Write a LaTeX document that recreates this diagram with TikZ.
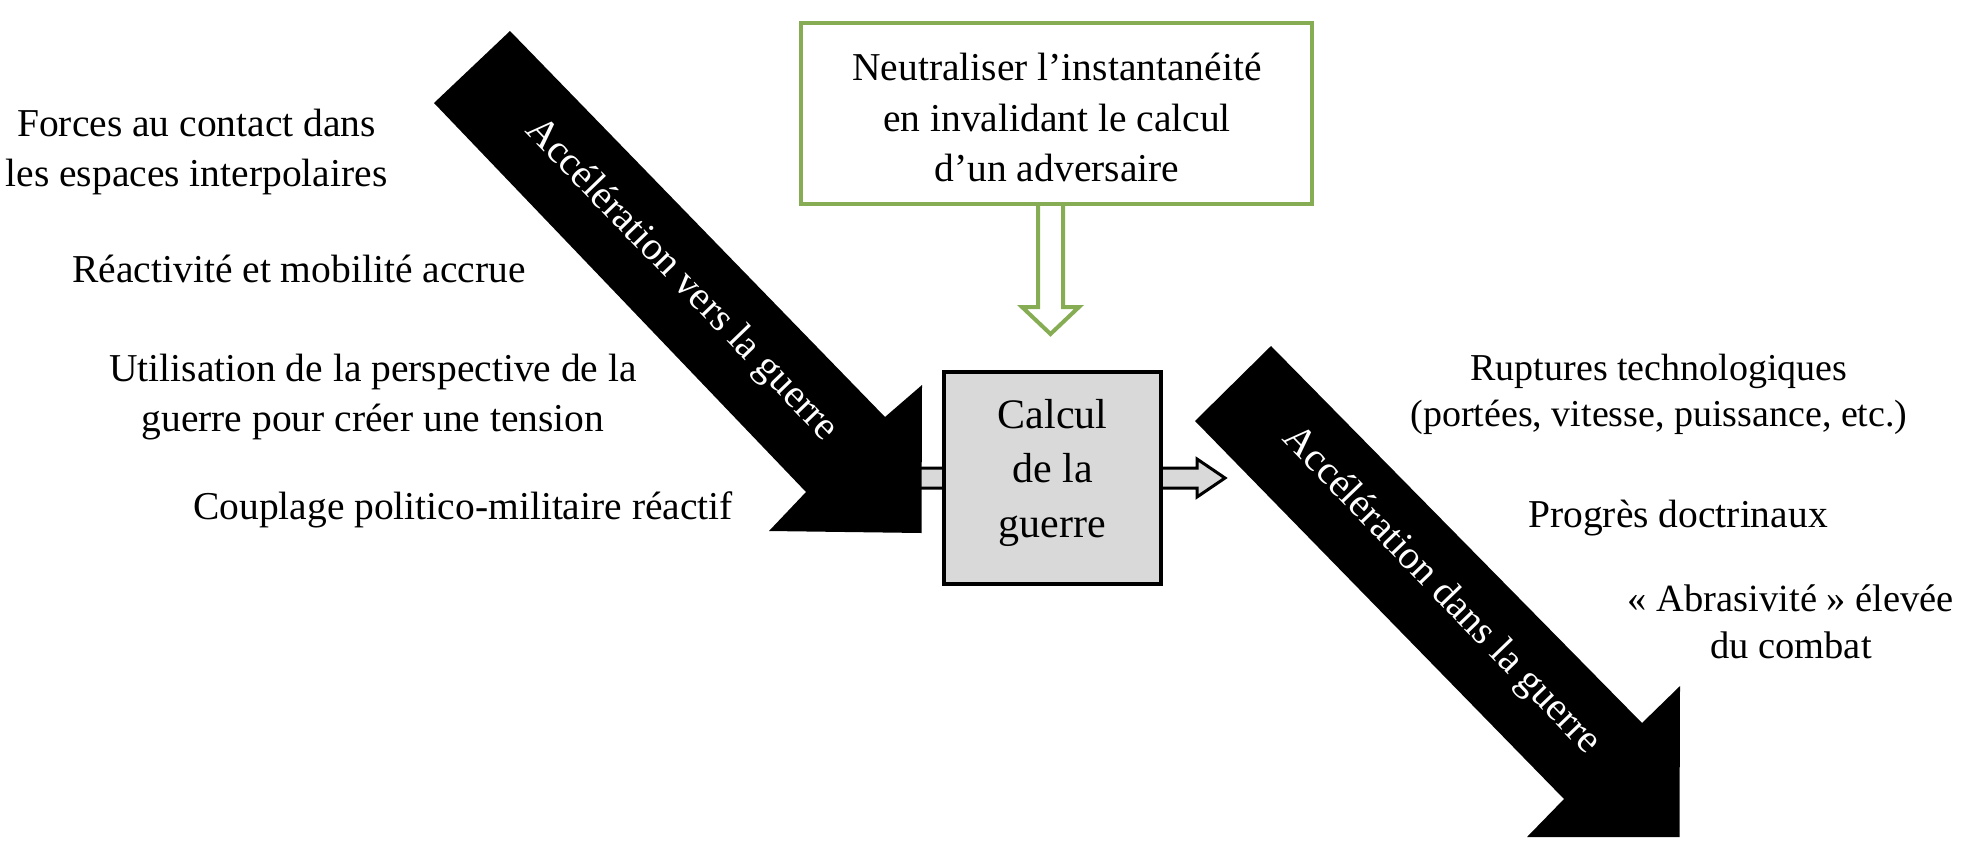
\documentclass[tikz,border=0pt]{standalone}
\usepackage{fontspec}
\setmainfont{Liberation Serif}
\usetikzlibrary{calc}
\definecolor{vert}{RGB}{134,173,84}
\definecolor{gris}{RGB}{217,217,217}
\begin{document}
\begin{tikzpicture}[x=1pt,y=-1pt,
  txt/.style={align=center, inner sep=0pt, font=\fontsize{39.5}{50}\selectfont},
  txtr/.style={align=center, inner sep=0pt, font=\fontsize{38.5}{47}\selectfont},
  arrowtxt/.style={inner sep=0pt, text=white, font=\fontsize{40}{50}\selectfont, rotate=-46},
  bigarrow/.style={fill=black, draw=none},
  grayarrow/.style={fill=gris, draw=black, line width=3pt, line join=miter},
  greenarrow/.style={draw=vert, line width=4pt, line join=miter},
  calcbox/.style={draw=black, fill=gris, line width=4pt, minimum width=217pt, minimum height=212pt, inner sep=0pt},
  greenbox/.style={draw=vert, line width=4pt, minimum width=511pt, minimum height=181pt, inner sep=0pt}]
\useasboundingbox (0,0) rectangle (1963,849);

% gray block arrow passing through the calculation box
\coordinate (gtail) at (905,478);
\coordinate (gtip) at (1225,478);
\draw[grayarrow] ($(gtail)+(0,-10)$) -- ($(gtip)+(-28,-10)$) -- ($(gtip)+(-28,-19)$) -- (gtip)
  -- ($(gtip)+(-28,19)$) -- ($(gtip)+(-28,10)$) -- ($(gtail)+(0,10)$) -- cycle;

% central box
\node[calcbox] (calc) at (1052.5,478) {};
\node[txt, font=\fontsize{42}{54.5}\selectfont] (calctext) at (1052.5,471.6) {\strut Calcul\\de la\\\strut guerre};

% black arrow 1
\coordinate (a1tip) at (921.5,533);
\fill[bigarrow] (510,31) -- (885,417) -- (922,385) -- (a1tip) -- (769,531) -- (806,492) -- (434,103) -- cycle;
\node[arrowtxt] (a1text) at (681,280) {Accélération vers la guerre};

% black arrow 2
\coordinate (a2tip) at (1679.5,837);
\fill[bigarrow] (1271,346) -- (1642,723) -- (1680,686) -- (a2tip) -- (1527,837) -- (1564,799) -- (1195,421) -- cycle;
\node[arrowtxt] (a2text) at (1441,591) {Accélération dans la guerre};

% green box and arrow
\node[greenbox] (green) at (1056.5,113.5) {};
\node[txt, font=\fontsize{39.5}{50.5}\selectfont] (greentext) at (1057,121.1) {\strut Neutraliser l’instantanéité\\en invalidant le calcul\\\strut d’un adversaire};
\coordinate (gs) at ($(green.south)+(-6,-2)$);
\coordinate (gt) at (1050.5,334);
\draw[greenarrow] ($(gs)+(-12.5,0)$) -- ($(gt)+(-12.5,-27)$) -- ($(gt)+(-28.5,-27)$) -- (gt)
  -- ($(gt)+(28.5,-27)$) -- ($(gt)+(12.5,-27)$) -- ($(gs)+(12.5,0)$);

% left texts
\node[txt] (l1) at (196.5,151) {\strut Forces au contact dans\\\strut les espaces interpolaires};
\node[txt] (l2) at (299,272) {\strut Réactivité et mobilité accrue};
\node[txt] (l3) at (373,396) {\strut Utilisation de la perspective de la\\\strut guerre pour créer une tension};
\node[txt] (l4) at (463,509) {\strut Couplage politico-militaire réactif};

% right texts
\node[txtr, font=\fontsize{38}{46.5}\selectfont] (r1) at (1659,394) {\strut Ruptures technologiques\\\strut (portées, vitesse, puissance, etc.)};
\node[txt] (r2) at (1678,517.6) {\strut Progrès doctrinaux};
\node[txtr] (r3) at (1791,625.1) {\strut «~Abrasivité~» élevée\\\strut du combat};
\end{tikzpicture}
\end{document}
